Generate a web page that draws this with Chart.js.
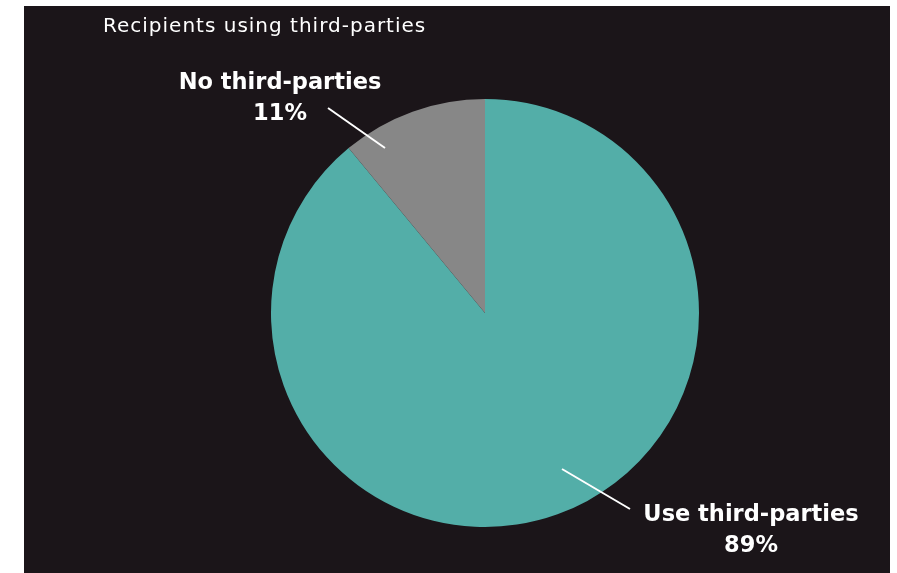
<!DOCTYPE html>
<html><head><meta charset="utf-8">
<script src="https://cdn.jsdelivr.net/npm/chart.js@4"></script>
<style>
html,body{margin:0;padding:0;background:#fff;width:897px;height:573px;overflow:hidden}
#wrap{position:absolute;left:24px;top:6px;width:866px;height:567px;background:#1b1519}
canvas{display:block}
</style></head>
<body><div id="wrap"><canvas id="c" width="866" height="567"></canvas></div>
<script>
const title = "Recipients using third-parties";
const categories = ["Use third-parties", "No third-parties"];
const values = [89, 11];
const colors = ["#53aea8", "#878787"];

const labelPlugin = {
  id: 'labels',
  afterDatasetsDraw(chart) {
    const ctx = chart.ctx;
    const arcs = chart.getDatasetMeta(0).data;
    const cx = arcs[0].x, cy = arcs[0].y, r = arcs[0].outerRadius;
    ctx.save();
    ctx.fillStyle = '#ffffff';
    ctx.font = '20px "DejaVu Sans"';
    ctx.letterSpacing = '1px';
    ctx.textAlign = 'left'; ctx.textBaseline = 'middle';
    ctx.fillText(title, 79, 21);
    ctx.letterSpacing = '0px';
    const specs = [
      {line:[77,156,145,196], text:[266,202], idx:0},
      {line:[-100,-165,-157,-205], text:[-205,-230], idx:1}
    ];
    ctx.strokeStyle = '#ffffff'; ctx.lineWidth = 2;
    specs.forEach(s => {
      const k = r/214;
      ctx.beginPath();
      ctx.moveTo(cx + s.line[0]*k, cy + s.line[1]*k);
      ctx.lineTo(cx + s.line[2]*k, cy + s.line[3]*k);
      ctx.stroke();
      ctx.font = 'bold 22.5px "DejaVu Sans"';
      ctx.textAlign = 'center';
      const tx = cx + s.text[0]*k, ty = cy + s.text[1]*k;
      ctx.fillText(categories[s.idx], tx, ty);
      ctx.fillText(values[s.idx] + '%', tx, ty + 31);
    });
    ctx.restore();
  }
};

new Chart(document.getElementById('c'), {
  type: 'pie',
  data: { labels: categories, datasets: [{ data: values, backgroundColor: colors, borderWidth: 0 }] },
  options: {
    responsive: false, animation: false,
    layout: { padding: { top: 93, bottom: 46, left: 247, right: 191 } },
    plugins: { legend: { display: false }, tooltip: { enabled: false }, title: { display: false } }
  },
  plugins: [labelPlugin]
});
</script></body></html>
